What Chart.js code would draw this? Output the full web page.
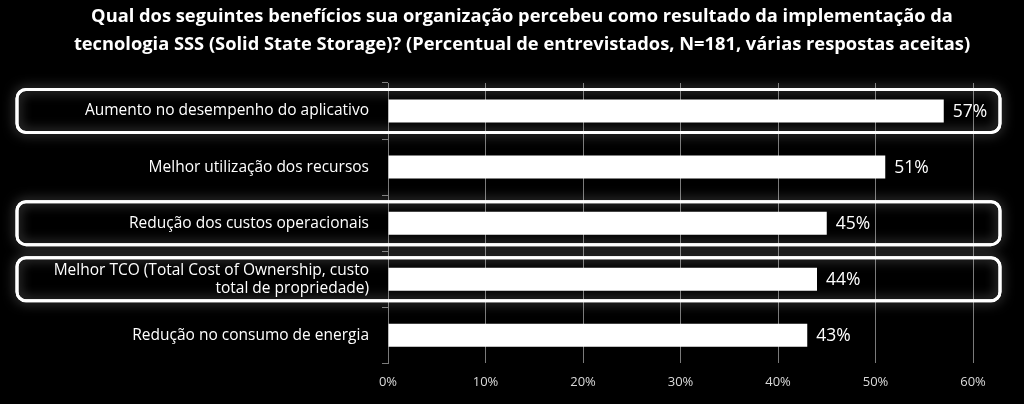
<!DOCTYPE html>
<html>
<head>
<meta charset="utf-8">
<script src="https://cdn.jsdelivr.net/npm/chart.js@4.4.1/dist/chart.umd.min.js"></script>
<style>
  html, body { margin: 0; padding: 0; background: #000; }
  #wrap { width: 1024px; height: 404px; position: relative; }
</style>
</head>
<body>
<div id="wrap"><canvas id="c" width="1024" height="404"></canvas></div>
<script>
const titleLines = [
  "Qual dos seguintes benefícios sua organização percebeu como resultado da implementação da",
  "tecnologia SSS (Solid State Storage)? (Percentual de entrevistados, N=181, várias respostas aceitas)"
];
const categories = [
  "Aumento no desempenho do aplicativo",
  "Melhor utilização dos recursos",
  "Redução dos custos operacionais",
  ["Melhor TCO (Total Cost of Ownership, custo", "total de propriedade)"],
  "Redução no consumo de energia"
];
const values = [57, 51, 45, 44, 43];
const highlighted = [true, false, true, true, false];
const xMin = 0, xMax = 60, xStep = 10;

const FONT = "'Open Sans', 'Noto Sans', sans-serif";

const titlePlugin = {
  id: 'customTitle',
  afterDraw(chart) {
    const ctx = chart.ctx;
    ctx.save();
    ctx.fillStyle = '#ffffff';
    ctx.font = "bold 18.3px " + FONT;
    ctx.textAlign = 'center';
    ctx.textBaseline = 'middle';
    titleLines.forEach((t, i) => ctx.fillText(t, 522, 17 + i * 28));
    ctx.restore();
  }
};

const highlightPlugin = {
  id: 'highlightBoxes',
  beforeDatasetsDraw(chart) {
    const ctx = chart.ctx;
    const y = chart.scales.y;
    const left = 17, right = 1000, half = 21.5, r = 9;
    ctx.save();
    highlighted.forEach((h, i) => {
      if (!h) return;
      const cy = y.getPixelForValue(i);
      const top = cy - half, bot = cy + half;
      ctx.save();
      ctx.shadowColor = 'rgba(255,255,255,0.5)';
      ctx.shadowBlur = 12;
      ctx.strokeStyle = '#ffffff';
      ctx.lineWidth = 3;
      ctx.beginPath();
      ctx.roundRect(left, top, right - left, bot - top, r);
      ctx.stroke();
      ctx.restore();
      ctx.strokeStyle = '#ffffff';
      ctx.lineWidth = 3;
      ctx.beginPath();
      ctx.roundRect(left, top, right - left, bot - top, r);
      ctx.stroke();
    });
    ctx.restore();
  }
};

const valueLabelPlugin = {
  id: 'valueLabels',
  afterDatasetsDraw(chart) {
    const ctx = chart.ctx;
    const meta = chart.getDatasetMeta(0);
    ctx.save();
    ctx.fillStyle = '#ffffff';
    ctx.font = "17.5px " + FONT;
    ctx.textAlign = 'left';
    ctx.textBaseline = 'middle';
    meta.data.forEach((bar, i) => {
      ctx.fillText(values[i] + '%', bar.x + 9, bar.y + 1);
    });
    ctx.restore();
  }
};

new Chart(document.getElementById('c'), {
  type: 'bar',
  data: {
    labels: categories,
    datasets: [{
      data: values,
      backgroundColor: '#ffffff',
      borderWidth: 0,
      barPercentage: 0.41,
      categoryPercentage: 1.0
    }]
  },
  options: {
    indexAxis: 'y',
    responsive: false,
    animation: false,
    devicePixelRatio: 1,
    layout: { padding: { left: 0, right: 51, top: 83, bottom: 3 } },
    plugins: {
      legend: { display: false },
      tooltip: { enabled: false },
      title: { display: false }
    },
    scales: {
      x: {
        min: xMin, max: xMax,
        ticks: {
          stepSize: xStep,
          color: '#d9d9d9',
          font: { family: FONT, size: 13 },
          padding: 11,
          callback: v => v + '%'
        },
        grid: { color: '#7a7a7a', lineWidth: 1, drawTicks: false },
        border: { display: false }
      },
      y: {
        ticks: {
          color: '#ffffff',
          font: { family: FONT, size: 15.5, lineHeight: 1.15 },
          padding: 13,
          autoSkip: false
        },
        grid: { offset: true, drawOnChartArea: false, tickLength: 6, color: '#7a7a7a' },
        border: { display: true, color: '#7a7a7a', width: 1 },
        afterFit(scale) { scale.width = 388; }
      }
    }
  },
  plugins: [titlePlugin, highlightPlugin, valueLabelPlugin]
});
</script>
</body>
</html>
